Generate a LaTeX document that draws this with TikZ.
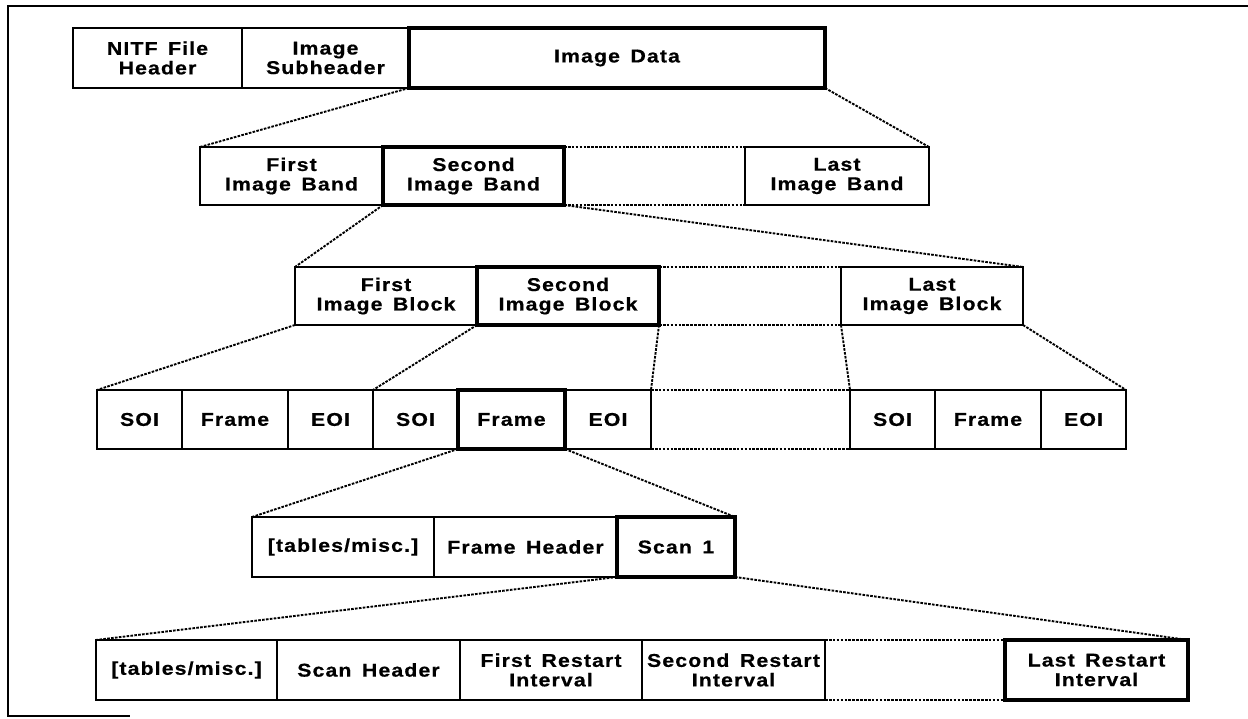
\documentclass[tikz,border=0pt]{standalone}
\usepackage{fontspec}
\setmainfont{Liberation Sans}[LetterSpace=6,WordSpace={1.5},FakeStretch=1.15]
\setmainfont{Liberation Sans}[LetterSpace=6,WordSpace={1.5},FakeStretch=1.15,BoldFeatures={FakeBold=0.6}]
\begin{document}
\begin{tikzpicture}[x=1pt,y=-1pt,
  cell/.style={draw, line width=1.9pt, rectangle, inner sep=0pt, outer sep=0pt,
    align=center, font=\bfseries\fontsize{18.5}{19.5}\selectfont},
  bold/.style={cell, line width=3.4pt},
  link/.style={line width=1.9pt, dash pattern=on 2.6pt off 1.3pt},
  frameline/.style={line width=2.4pt}]
\useasboundingbox (0,0) rectangle (1248,719);
% frame
\coordinate (f1) at (1248,6);
\coordinate (f2) at (8,6);
\coordinate (f3) at (8,716);
\coordinate (f4) at (130,716);
\draw[frameline] (f1) -- (f2) -- (f3) -- (f4);
% row 1
\node[cell, minimum width=169pt, minimum height=60pt] (nitf) at (157.5,58) {NITF File\\Header};
\node[cell, minimum width=167pt, minimum height=60pt] (subh) at (325.5,58) {Image\\Subheader};
\node[bold, minimum width=416pt, minimum height=60pt] (idata) at (617,58) {Image Data};
% row 2
\node[cell, minimum width=183pt, minimum height=58pt] (band1) at (291.5,176) {First\\Image Band};
\node[cell, minimum width=184pt, minimum height=58pt] (bandL) at (837,176) {Last\\Image Band};
\node[bold, minimum width=181pt, minimum height=58pt] (band2) at (473.5,176) {Second\\Image Band};
% row 3
\node[cell, minimum width=182pt, minimum height=58pt] (blk1) at (386,296) {First\\Image Block};
\node[cell, minimum width=182pt, minimum height=58pt] (blkL) at (932,296) {Last\\Image Block};
\node[bold, minimum width=182pt, minimum height=58pt] (blk2) at (568,296) {Second\\Image Block};
% row 4
\node[cell, minimum width=85pt, minimum height=59pt] (soi1) at (139.5,419.5) {SOI};
\node[cell, minimum width=106pt, minimum height=59pt] (fr1) at (235,419.5) {Frame};
\node[cell, minimum width=85pt, minimum height=59pt] (eoi1) at (330.5,419.5) {EOI};
\node[cell, minimum width=85pt, minimum height=59pt] (soi2) at (415.5,419.5) {SOI};
\node[cell, minimum width=86pt, minimum height=59pt] (eoi2) at (608,419.5) {EOI};
\node[bold, minimum width=107pt, minimum height=59pt] (fr2) at (511.5,419.5) {Frame};
\node[cell, minimum width=85pt, minimum height=59pt] (soi3) at (892.5,419.5) {SOI};
\node[cell, minimum width=106pt, minimum height=59pt] (fr3) at (988,419.5) {Frame};
\node[cell, minimum width=85pt, minimum height=59pt] (eoi3) at (1083.5,419.5) {EOI};
% row 5
\node[cell, minimum width=182pt, minimum height=60pt] (tab1) at (343,547) {[tables/misc.]};
\node[cell, minimum width=183pt, minimum height=60pt] (fh) at (525.5,547) {Frame Header};
\node[bold, minimum width=118pt, minimum height=60pt] (scan1) at (676,547) {Scan 1};
% row 6
\node[cell, minimum width=181pt, minimum height=60pt] (tab2) at (186.5,670) {[tables/misc.]};
\node[cell, minimum width=183pt, minimum height=60pt] (sh) at (368.5,670) {Scan Header};
\node[cell, minimum width=182pt, minimum height=60pt] (r1) at (551,670) {First Restart\\Interval};
\node[cell, minimum width=183pt, minimum height=60pt] (r2) at (733.5,670) {Second Restart\\Interval};
\node[bold, minimum width=183pt, minimum height=60pt] (rL) at (1096.5,670) {Last Restart\\Interval};
% connectors
\draw[link] (idata.south west) -- (band1.north west);
\draw[link] (idata.south east) -- (bandL.north east);
\draw[link] (band2.north east) -- (bandL.north west);
\draw[link] (band2.south east) -- (bandL.south west);
\draw[link] (band2.south west) -- (blk1.north west);
\draw[link] (band2.south east) -- (blkL.north east);
\draw[link] (blk2.north east) -- (blkL.north west);
\draw[link] (blk2.south east) -- (blkL.south west);
\draw[link] (blk1.south west) -- (soi1.north west);
\draw[link] (blk2.south west) -- (soi2.north west);
\draw[link] (blk2.south east) -- (eoi2.north east);
\draw[link] (blkL.south west) -- (soi3.north west);
\draw[link] (blkL.south east) -- (eoi3.north east);
\draw[link] (eoi2.north east) -- (soi3.north west);
\draw[link] (eoi2.south east) -- (soi3.south west);
\draw[link] (fr2.south west) -- (tab1.north west);
\draw[link] (fr2.south east) -- (scan1.north east);
\draw[link] (scan1.south west) -- (tab2.north west);
\draw[link] (scan1.south east) -- (rL.north east);
\draw[link] (r2.north east) -- (rL.north west);
\draw[link] (r2.south east) -- (rL.south west);
\end{tikzpicture}
\end{document}
